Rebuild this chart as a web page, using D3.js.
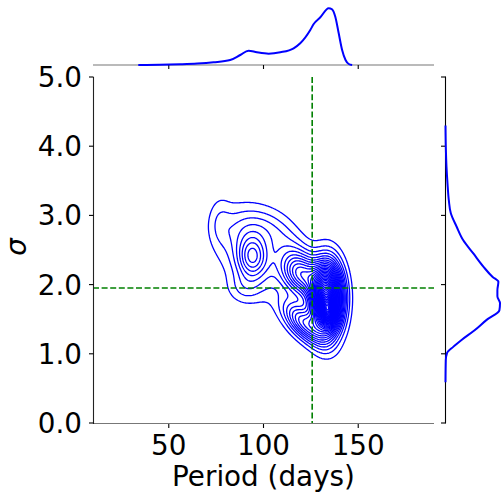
<!DOCTYPE html>
<html><head><meta charset="utf-8">
<script src="https://cdn.jsdelivr.net/npm/d3@7"></script>
<style>body{margin:0;background:#fff} svg{display:block} text{font-family:"DejaVu Sans",sans-serif;fill:#000}</style>
</head><body>
<script>
// ---------- data ----------
const xTicks = [50, 100, 150];
const yTicks = [0, 1, 2, 3, 4, 5];
const yTickLabels = ["0.0", "1.0", "2.0", "3.0", "4.0", "5.0"];
const xLabel = "Period (days)";
const yLabel = "σ";
const refPeriod = 125.7;
const refSigma = 1.95;

// top marginal KDE of period (relative density)
const topPeriod  = [33.9, 45, 56.0, 65, 73.6, 82.4, 87.7, 92.1, 96.5, 102.7, 108.9, 115.9, 119.4, 124.7, 126.5, 130.0, 134.4, 136.2, 137.9, 139.7, 141.5, 143.3, 145.0, 146.8];
const topDensity = [0, 0.2, 0.7, 1.4, 2.7, 5.0, 10.0, 14.3, 12.7, 11.3, 12.7, 16.7, 21.7, 35.0, 41.0, 47.7, 56.7, 55.7, 48.3, 31.7, 15.0, 5.0, 1.0, 0];

// right marginal KDE of sigma (relative density)
const rightSigma   = [0.59, 0.91, 1.01, 1.10, 1.20, 1.34, 1.49, 1.63, 1.73, 1.83, 1.92, 2.04, 2.11, 2.26, 2.45, 2.64, 2.84, 3.03, 3.22, 3.46, 3.70, 4.00, 4.30];
const rightDensity = [0, 0.3, 1.5, 7.7, 16.0, 29.0, 41.0, 53.7, 54.3, 51.7, 51.7, 52.7, 47.0, 37.7, 27.7, 17.7, 11.0, 5.3, 3.3, 2.0, 1.0, 0.3, 0];

// joint KDE: blobs (centre, spread, tilt, height in contour levels)
const blobPeriod = [134.0, 133.5, 120.0, 94.0, 95.0, 95.0, 77.0, 90.0, 121.0, 112.0];
const blobSigma  = [1.62, 1.80, 2.15, 2.40, 2.45, 2.85, 2.90, 1.95, 1.45, 2.65];
const blobSdP    = [2.5, 5.3, 7.0, 5.0, 12.0, 12.0, 4.0, 6.0, 7.0, 9.0];
const blobSdS    = [0.13, 0.33, 0.22, 0.20, 0.40, 0.20, 0.25, 0.15, 0.20, 0.22];
const blobRho    = [-0.2, 0, -0.3, 0, -0.3, 0, 0, 0, -0.6, -0.5];
const blobHeight = [12, 26, 10, 5, 3.5, 1.5, 1.2, 1.5, 8, 1.5];
const contourLevels = d3.range(1, 60);

// ---------- layout ----------
const W = 501, H = 495;
const svg = d3.select("body").append("svg").attr("width", W).attr("height", H);
const x = d3.scaleLinear().domain([10, 190]).range([93, 434]);
const y = d3.scaleLinear().domain([0, 5]).range([423, 77]);
const topY = d3.scaleLinear().domain([0, d3.max(topDensity)]).range([65, 8.3]);
const rightX = d3.scaleLinear().domain([0, d3.max(rightDensity)]).range([445.5, 500]);

// ---------- density grid ----------
function dens(p, s) {
  let f = 0;
  for (let k = 0; k < blobPeriod.length; k++) {
    const dx = (p - blobPeriod[k]) / blobSdP[k];
    const dy = (s - blobSigma[k]) / blobSdS[k];
    const r = blobRho[k];
    const q = (dx * dx - 2 * r * dx * dy + dy * dy) / (1 - r * r);
    f += blobHeight[k] * Math.exp(-0.5 * q);
  }
  return f;
}
const step = 1;
const gx0 = 93, gy0 = 77;
const nx = Math.ceil((434 - gx0) / step) + 1, ny = Math.ceil((423 - gy0) / step) + 1;
const values = new Float64Array(nx * ny);
for (let j = 0; j < ny; j++) for (let i = 0; i < nx; i++) {
  values[j * nx + i] = dens(x.invert(gx0 + i * step), y.invert(gy0 + j * step));
}
const contours = d3.contours().size([nx, ny]).thresholds(contourLevels)(values);
const proj = d3.geoIdentity().scale(step).translate([gx0 - 0.5 * step, gy0 - 0.5 * step]);
const path = d3.geoPath(proj);

svg.append("defs").append("clipPath").attr("id", "clip")
  .append("rect").attr("x", 93).attr("y", 77).attr("width", 341).attr("height", 346);

svg.append("g").attr("clip-path", "url(#clip)")
  .selectAll("path").data(contours).join("path")
  .attr("d", path).attr("fill", "none").attr("stroke", "#0000ff").attr("stroke-width", 1.3);

// reference lines
svg.append("line").attr("x1", x(refPeriod)).attr("x2", x(refPeriod)).attr("y1", y(5)).attr("y2", y(0))
  .attr("stroke", "#008000").attr("stroke-width", 1.6).attr("stroke-dasharray", "6,2.6");
svg.append("line").attr("x1", x(10)).attr("x2", x(190)).attr("y1", y(refSigma)).attr("y2", y(refSigma))
  .attr("stroke", "#008000").attr("stroke-width", 1.6).attr("stroke-dasharray", "6,2.6");

// main axes
svg.append("line").attr("x1", 93).attr("x2", 434).attr("y1", 423.5).attr("y2", 423.5).attr("stroke", "#777").attr("stroke-width", 1.1);
svg.append("line").attr("x1", 93.5).attr("x2", 93.5).attr("y1", 77).attr("y2", 424).attr("stroke", "#222").attr("stroke-width", 1.1);
xTicks.forEach(t => {
  svg.append("line").attr("x1", x(t)).attr("x2", x(t)).attr("y1", 424).attr("y2", 428).attr("stroke", "#000").attr("stroke-width", 1.1);
  svg.append("text").attr("x", x(t)).attr("y", 455).attr("text-anchor", "middle").attr("font-size", 27.8).text(t);
});
yTicks.forEach((t, i) => {
  svg.append("line").attr("x1", 89).attr("x2", 93.5).attr("y1", y(t)).attr("y2", y(t)).attr("stroke", "#000").attr("stroke-width", 1.1);
  svg.append("text").attr("x", 82).attr("y", y(t)).attr("dy", "0.36em").attr("text-anchor", "end").attr("font-size", 27.8).text(yTickLabels[i]);
});
svg.append("text").attr("x", 263.5).attr("y", 486).attr("text-anchor", "middle").attr("font-size", 27.8).text(xLabel);
svg.append("text").attr("transform", "translate(26,247) rotate(-90)").attr("text-anchor", "middle")
  .attr("font-size", 27.8).attr("font-style", "italic").text(yLabel);

// top marginal
svg.append("line").attr("x1", 93).attr("x2", 434).attr("y1", 65).attr("y2", 65).attr("stroke", "#777").attr("stroke-width", 1.1);
xTicks.forEach(t => {
  svg.append("line").attr("x1", x(t)).attr("x2", x(t)).attr("y1", 65).attr("y2", 69).attr("stroke", "#000").attr("stroke-width", 1.1);
});
svg.append("path").datum(topPeriod.map((p, i) => [p, topDensity[i]]))
  .attr("d", d3.line().x(d => x(d[0])).y(d => topY(d[1])).curve(d3.curveMonotoneX))
  .attr("fill", "none").attr("stroke", "#0000ff").attr("stroke-width", 2);

// right marginal
svg.append("line").attr("x1", 445.5).attr("x2", 445.5).attr("y1", 76.5).attr("y2", 423.5).attr("stroke", "#000").attr("stroke-width", 1.1);
yTicks.forEach(t => {
  svg.append("line").attr("x1", 441).attr("x2", 445.5).attr("y1", y(t)).attr("y2", y(t)).attr("stroke", "#000").attr("stroke-width", 1.1);
});
svg.append("path").datum(rightSigma.map((s, i) => [s, rightDensity[i]]))
  .attr("d", d3.line().x(d => rightX(d[1])).y(d => y(d[0])).curve(d3.curveMonotoneY))
  .attr("fill", "none").attr("stroke", "#0000ff").attr("stroke-width", 2);
</script>
</body></html>
